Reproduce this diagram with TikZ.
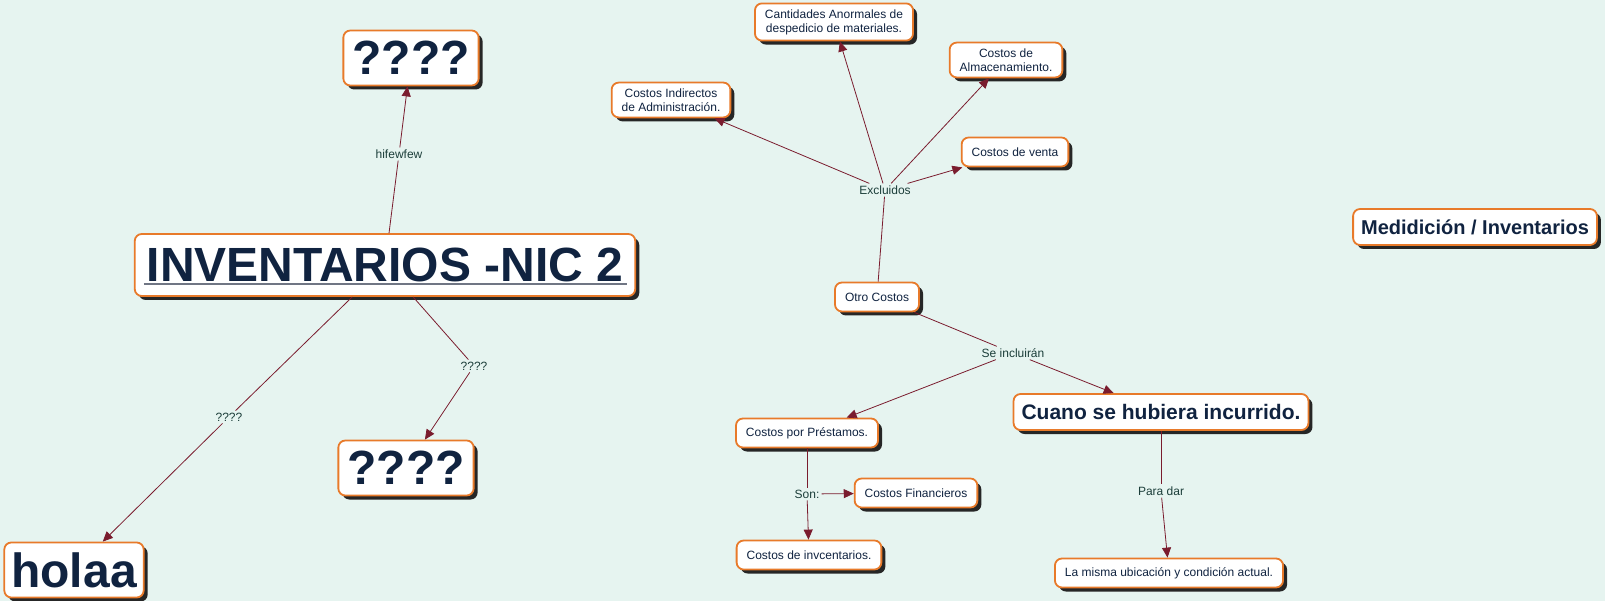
\documentclass[tikz,border=0pt]{standalone}
\usepackage{fontspec}
\setmainfont{Liberation Sans}
\usepackage{xcolor}
\usetikzlibrary{arrows.meta,positioning,calc,shadows}

\definecolor{mapbg}{RGB}{230,244,240}
\definecolor{maporange}{RGB}{232,122,42}
\definecolor{mapnavy}{RGB}{16,35,64}
\definecolor{mapline}{RGB}{122,28,46}
\definecolor{maplink}{RGB}{28,62,58}
\definecolor{mapunder}{RGB}{112,118,132}

\begin{document}
\begin{tikzpicture}[
  x=1pt, y=-1pt,
  concept/.style={draw=maporange, line width=1.8pt, rounded corners=7pt, fill=white,
                  text=mapnavy, align=center, inner xsep=10pt, inner ysep=6pt,
                  minimum height=29pt, font=\fontsize{12}{14}\selectfont,
                  general shadow={fill=black!85, shadow xshift=4pt, shadow yshift=-4pt}},
  bigconcept/.style={concept, font=\bfseries\fontsize{48}{52}\selectfont,
                     inner xsep=9pt, minimum height=55pt},
  midconcept/.style={concept, font=\bfseries\fontsize{21}{24}\selectfont,
                     inner xsep=8pt, minimum height=36pt},
  linkphrase/.style={text=maplink, font=\fontsize{12}{14}\selectfont, inner sep=2pt},
  link/.style={draw=mapline, line width=0.8pt},
  linkto/.style={link, -{Triangle[length=10pt,width=9pt]}}
]
\fill[mapbg] (0,0) rectangle (1605,601);
\useasboundingbox (0,0) rectangle (1605,601);

% left part
\node[bigconcept, minimum height=62pt, inner xsep=12pt] (inv) at (385,265) {INVENTARIOS -NIC 2};
\draw[mapunder, line width=2pt] ($(inv.south west)+(10,-13)$) -- ($(inv.south east)+(-9,-13)$);
\node[bigconcept] (qtop) at (411,58) {????};
\node[bigconcept] (qbot) at (406,468) {????};
\node[bigconcept, inner xsep=7pt] (holaa) at (74,570) {holaa};

\node[linkphrase] (lhif) at (399,154) {hifewfew};
\node[linkphrase] (lqr) at (474,366) {????};
\node[linkphrase] (lql) at (229,417) {????};

\draw[link] (inv) -- (lhif);
\draw[linkto] (lhif) -- (qtop);
\draw[link] (inv) -- (lqr);
\draw[linkto] (lqr) -- (qbot);
\draw[link] (inv) -- (lql);
\draw[linkto] (lql) -- (holaa);

% right part
\node[concept] (cantidades) at (834,22) {Cantidades Anormales de\\despedicio de materiales.};
\node[concept] (almacen) at (1006,60) {Costos de\\Almacenamiento.};
\node[concept] (indirectos) at (671,100) {Costos Indirectos\\de Administración.};
\node[concept] (venta) at (1015,152) {Costos de venta};
\node[concept] (otros) at (877,297) {Otro Costos};
\node[midconcept] (cuano) at (1161,412) {Cuano se hubiera incurrido.};
\node[concept] (prestamos) at (807,433) {Costos por Préstamos.};
\node[concept] (financieros) at (916,493) {Costos Financieros};
\node[concept] (invcent) at (809,555) {Costos de invcentarios.};
\node[concept] (ubicacion) at (1169,573) {La misma ubicación y condición actual.};
\node[midconcept, font=\bfseries\fontsize{20}{23}\selectfont] (medicion) at (1475,227) {Medidición / Inventarios};

\node[linkphrase] (lexcl) at (885,190) {Excluidos};
\node[linkphrase] (lincl) at (1013,353) {Se incluirán};
\node[linkphrase] (lson) at (807,494) {Son:};
\node[linkphrase] (lpara) at (1161,491) {Para dar};

\draw[link] (otros) -- (lexcl);
\draw[linkto] (lexcl) -- (indirectos);
\draw[linkto] (lexcl) -- (cantidades);
\draw[linkto] (lexcl) -- (almacen);
\draw[linkto] (lexcl) -- (venta);
\draw[link] (otros) -- (lincl);
\draw[linkto] (lincl) -- (prestamos);
\draw[linkto] (lincl) -- (cuano);
\draw[link] (prestamos) -- (lson);
\draw[linkto] (lson) -- (financieros);
\draw[linkto] (lson) -- (invcent);
\draw[link] (cuano) -- (lpara);
\draw[linkto] (lpara) -- (ubicacion);
\end{tikzpicture}
\end{document}
